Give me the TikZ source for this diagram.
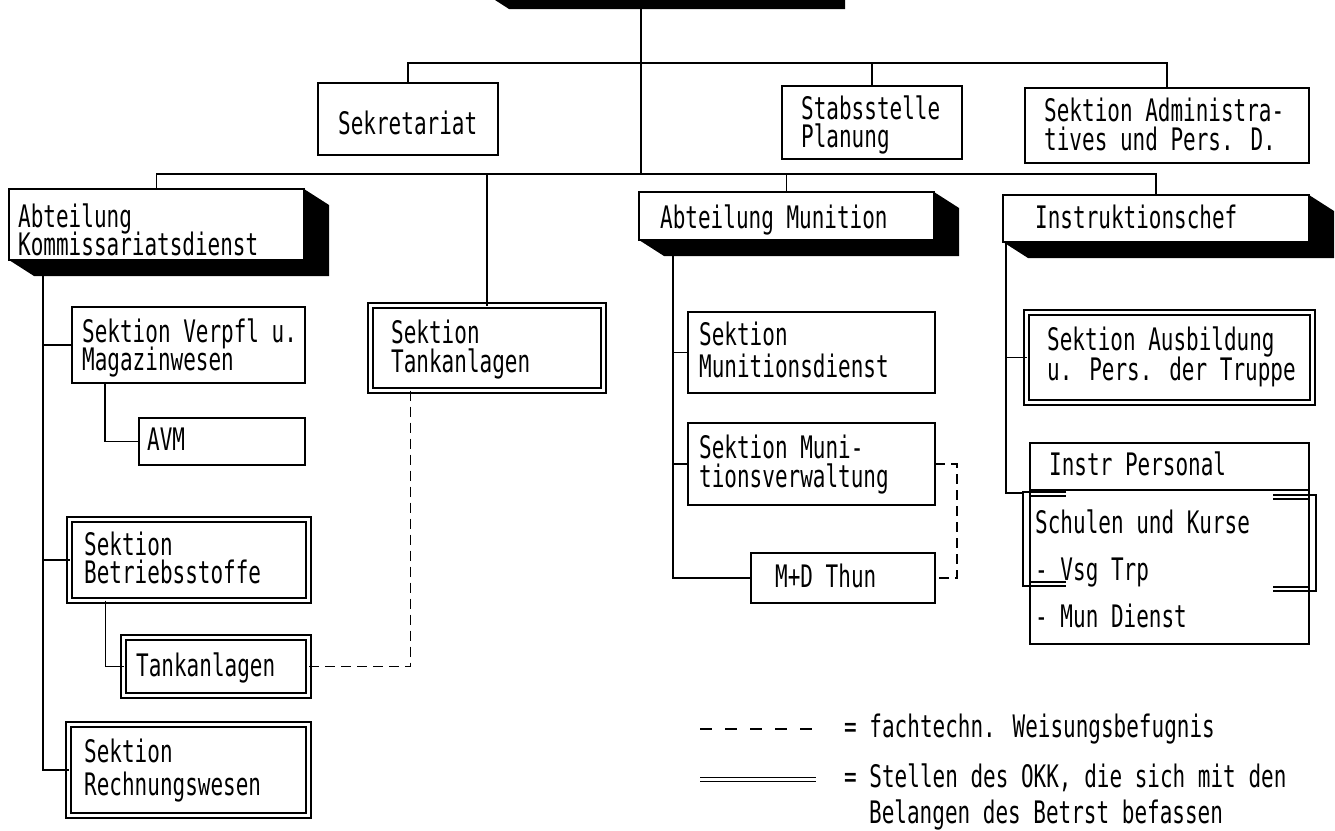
\documentclass[tikz,border=0pt]{standalone}
\usepackage{fontspec}
\newfontfamily\plotfont[FakeStretch=0.677]{DejaVu Sans Mono}
\usetikzlibrary{fit}
\tikzset{
  box/.style={draw, line width=1.5pt, inner sep=0pt, outer sep=0pt, fill=white, fit={#1}},
  dbox/.style={draw, double, double distance=3.6pt, line width=1.4pt, inner sep=0pt, outer sep=0pt, fit={#1}},
  txt/.style={inner sep=0pt, anchor=base west, text height=21pt, text depth=4pt, font=\plotfont\fontsize{31}{27}\selectfont},
  conn/.style={line width=1.35pt},
  tech/.style={line width=1.5pt, dash pattern=on 10pt off 6pt},
  legdash/.style={line width=1.5pt, dash pattern=on 12pt off 13pt},
  legdouble/.style={line width=1.4pt, double, double distance=3pt},
}
\newcommand\dropshade[1]{\fill (#1.north east) -- ++(25,16) -- ([shift={(25,16)}]#1.south east) -- ([shift={(25,16)}]#1.south west) -- (#1.south west) -- (#1.south east) -- cycle;}
\begin{document}
\begin{tikzpicture}[x=1pt,y=-1pt]
\useasboundingbox (0,0) rectangle (1335,830);
\fill[white] (0,0) rectangle (1335,830);

% head (cut off at top)
\fill (495,0) -- (845,0) -- (845,9) -- (509,9) -- cycle;
\coordinate (top) at (641,8);
\coordinate (j1) at (641,63);
\coordinate (j2) at (641,174);

% staff level
\node[box={(318,83) (498,155)}] (sek) {};
\node[box={(782,86) (962,159)}] (stab) {};
\node[box={(1025,88) (1309,163)}] (adm) {};

% departments
\node[box={(9,189) (304,260)}] (komm) {};
\node[box={(639,192) (934,240)}] (mun) {};
\node[box={(1003,195) (1309,242)}] (ich) {};
\node[dbox={(370.5,305.5) (603.5,390.5)}] (stk) {};

% Kommissariatsdienst sections
\node[box={(72,307) (305,383)}] (ver) {};
\node[box={(139,418) (305,465)}] (avm) {};
\node[dbox={(69.5,519.5) (308.5,600.5)}] (betr) {};
\node[dbox={(123.5,637.5) (308.5,695.5)}] (tank) {};
\node[dbox={(68.5,724.5) (308.5,815.5)}] (rech) {};

% Munition sections
\node[box={(688,312) (935,393)}] (mdi) {};
\node[box={(688,423) (935,505)}] (mvw) {};
\node[box={(751,553) (935,603)}] (mdt) {};

% Instruktionschef sections
\node[dbox={(1026.5,312.5) (1312.5,402.5)}] (aus) {};
\node[box={(1030,443) (1309,490)}] (ipa) {};
\node[box={(1030,490) (1309,644)}] (ipb) {};
\coordinate (ipc) at (1023,493);

% connectors
\draw[conn] (top) -- (j2);
\draw[conn] (sek.north) |- (j1) -| (adm.north);
\draw[conn] (stab.north) -- (stab.north |- j1);
\draw[conn] (komm.north) |- (j2) -| (ich.north);
\draw[conn] (mun.north) -- (mun.north |- j2);
\draw[conn] (stk.north) -- (stk.north |- j2);

\coordinate (kv) at (43,276);
\draw[conn] (kv) |- (rech.west);
\draw[conn] (kv |- ver.west) -- (ver.west);
\draw[conn] (kv |- betr.west) -- (betr.west);
\draw[conn] ([xshift=33pt]ver.south west) |- (avm.west);
\draw[conn] ([xshift=36pt]betr.south west) |- (tank.west);
\draw[tech] ([xshift=40pt]stk.south west) |- (tank.east);

\coordinate (mv) at (673,256);
\draw[conn] (mv) |- (mdt.west);
\draw[conn] (mv |- mdi.west) -- (mdi.west);
\draw[conn] (mv |- mvw.west) -- (mvw.west);
\draw[tech] (mvw.east) -- ++(22,0) |- (mdt.east);

\coordinate (iv) at (1006,242);
\draw[conn] (iv) |- (ipc);
\draw[conn] (iv |- aus.west) -- (aus.west);

% shadows of departments
\dropshade{komm}
\dropshade{mun}
\dropshade{ich}

% double-line frame around Schulen und Kurse / Vsg Trp
\draw[line width=1.4pt] (1066,492) -- (1023,492) -- (1023,586) -- (1066,586);
\draw[line width=1.4pt] (1030,496) -- (1066,496);
\draw[line width=1.4pt] (1030,582) -- (1066,582);
\draw[line width=1.4pt] (1273,495) -- (1316,495) -- (1316,591) -- (1273,591);
\draw[line width=1.4pt] (1273,499) -- (1309,499);
\draw[line width=1.4pt] (1273,587) -- (1309,587);

% texts
\node[txt] (t1) at (338,134) {Sekretariat};
\node[txt] (t2) at (801,119) {Stabsstelle};
\node[txt] (t3) at (801,147) {Planung};
\node[txt] (t4) at (1044,121) {Sektion Administra-};
\node[txt] (t5) at (1044,150) {tives und Pers. D.};
\node[txt] (t6) at (18,227) {Abteilung};
\node[txt] (t7) at (18,255) {Kommissariatsdienst};
\node[txt] (t8) at (660,228) {Abteilung Munition};
\node[txt] (t9) at (1035,228) {Instruktionschef};
\node[txt] (t10) at (82,342) {Sektion Verpfl u.};
\node[txt] (t11) at (82,370) {Magazinwesen};
\node[txt] (t12) at (147,450) {AVM};
\node[txt] (t13) at (391,343) {Sektion};
\node[txt] (t14) at (391,372) {Tankanlagen};
\node[txt] (t15) at (84,555) {Sektion};
\node[txt] (t16) at (84,583) {Betriebsstoffe};
\node[txt] (t17) at (136,676) {Tankanlagen};
\node[txt] (t18) at (84,762) {Sektion};
\node[txt] (t19) at (84,795) {Rechnungswesen};
\node[txt] (t20) at (699,345) {Sektion};
\node[txt] (t21) at (699,377) {Munitionsdienst};
\node[txt] (t22) at (699,458) {Sektion Muni-};
\node[txt] (t23) at (699,487) {tionsverwaltung};
\node[txt] (t24) at (775,587) {M+D Thun};
\node[txt] (t25) at (1047,350) {Sektion Ausbildung};
\node[txt] (t26) at (1047,380) {u. Pers. der Truppe};
\node[txt] (t27) at (1049,475) {Instr Personal};
\node[txt] (t28) at (1035,533) {Schulen und Kurse};
\node[txt] (t29) at (1035,580) {- Vsg Trp};
\node[txt] (t30) at (1035,627) {- Mun Dienst};

% legend
\coordinate (lg1a) at (700,729);
\coordinate (lg1b) at (816,729);
\coordinate (lg2a) at (700,779.5);
\coordinate (lg2b) at (816,779.5);
\draw[legdash] (lg1a) -- (lg1b);
\draw[legdouble] (lg2a) -- (lg2b);
\node[txt] (l1) at (844,737) {= fachtechn. Weisungsbefugnis};
\node[txt] (l2) at (844,787) {= Stellen des OKK, die sich mit den};
\node[txt] (l3) at (869,823) {Belangen des Betrst befassen};
\end{tikzpicture}
\end{document}
